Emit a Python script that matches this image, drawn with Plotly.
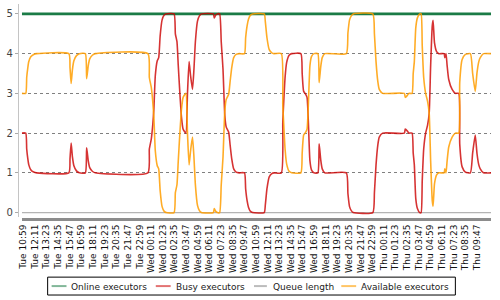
import pandas as pd
import plotly.graph_objects as go

START = pd.Timestamp("2024-01-02 10:59")  # a Tuesday

# sample times, minutes after Tue 10:59
minutes = [
    -9, 15, 21, 28, 34, 46, 64, 83,
    282, 289, 296, 304, 313, 329, 347,
    384, 392, 402, 411, 427, 445,
    771, 780, 792, 801, 808, 817, 829, 838, 847, 859, 872, 884,
    933, 941, 951, 959, 969, 979, 989, 1006, 1016, 1026, 1035, 1047, 1056, 1065, 1078, 1090, 1102,
    1176, 1182, 1191, 1201, 1215, 1225, 1236, 1247, 1256, 1271, 1280, 1290, 1302, 1317, 1336,
    1369, 1376, 1385, 1394, 1406, 1419,
    1491, 1498, 1508, 1522, 1538, 1551,
    1597, 1606, 1612, 1620, 1630, 1645, 1661,
    1718, 1726, 1735, 1747, 1756, 1764, 1774, 1784, 1799, 1823, 1831, 1841, 1850, 1866,
    1999, 2009, 2019, 2030, 2042,
    2163, 2173, 2183, 2194, 2203, 2224,
    2358, 2364, 2377, 2386, 2406, 2413, 2420, 2429, 2439, 2453, 2462, 2469, 2478, 2490, 2502, 2512,
    2521, 2531, 2536, 2545, 2558, 2572,
    2604, 2609, 2616, 2623, 2633, 2654, 2674, 2695, 2701, 2716, 2736, 2767, 2781, 2797, 2808, 2819,
    2828, 2848, 2895,
]

busy = [
    2.0, 2.0, 1.6, 1.35, 1.2, 1.08, 1.02, 1.0,
    1.0, 1.35, 1.75, 1.4, 1.18, 1.05, 1.0,
    1.0, 1.63, 1.3, 1.13, 1.04, 1.0,
    1.0, 1.6, 1.85, 2.2, 2.6, 3.45, 3.82, 3.9, 4.45, 4.85, 4.97, 5.0,
    5.0, 4.5, 4.3, 3.7, 3.0, 2.4, 2.1, 2.0, 3.0, 3.8, 3.45, 3.1, 3.6, 4.3, 4.82, 4.95, 5.0,
    5.0, 4.9, 4.97, 5.0, 5.0, 4.3, 3.6, 2.45, 2.15, 2.02, 1.7, 1.35, 1.1, 1.02, 1.0,
    1.0, 0.6, 0.3, 0.13, 0.03, 0.0,
    0.0, 0.2, 0.6, 0.9, 0.98, 1.0,
    1.0, 2.3, 2.8, 3.4, 3.78, 3.96, 4.0,
    4.0, 3.5, 3.05, 2.98, 2.9, 2.3, 1.3, 1.07, 1.0, 1.0, 1.73, 1.32, 1.1, 1.0,
    1.0, 0.48, 0.15, 0.05, 0.0,
    0.0, 0.5, 1.2, 1.7, 1.9, 2.0,
    2.0, 2.1, 2.05, 2.0, 2.0, 1.5, 1.2, 0.35, 0.1, 0.0, 0.0, 0.8, 1.6, 2.0, 2.2, 2.5,
    3.7, 4.7, 4.84, 4.27, 4.05, 4.0,
    4.0, 3.9, 4.0, 3.7, 3.35, 3.1, 3.0, 3.0, 1.73, 1.15, 1.02, 1.0, 1.5, 1.95, 1.48, 1.2,
    1.1, 1.0, 1.0,
]

available = [
    3.0, 3.0, 3.4, 3.65, 3.8, 3.92, 3.98, 4.0,
    4.0, 3.65, 3.25, 3.6, 3.82, 3.95, 4.0,
    4.0, 3.37, 3.7, 3.87, 3.96, 4.0,
    4.0, 3.4, 3.15, 2.8, 2.4, 1.55, 1.18, 1.1, 0.55, 0.15, 0.03, 0.0,
    0.0, 0.5, 0.7, 1.3, 2.0, 2.6, 2.9, 3.0, 2.0, 1.2, 1.55, 1.9, 1.4, 0.7, 0.18, 0.05, 0.0,
    0.0, 0.1, 0.03, 0.0, 0.0, 0.7, 1.4, 2.55, 2.85, 2.98, 3.3, 3.65, 3.9, 3.98, 4.0,
    4.0, 4.4, 4.7, 4.87, 4.97, 5.0,
    5.0, 4.8, 4.4, 4.1, 4.02, 4.0,
    4.0, 2.7, 2.2, 1.6, 1.22, 1.04, 1.0,
    1.0, 1.5, 1.95, 2.02, 2.1, 2.7, 3.7, 3.93, 4.0, 4.0, 3.27, 3.68, 3.9, 4.0,
    4.0, 4.52, 4.85, 4.95, 5.0,
    5.0, 4.5, 3.8, 3.3, 3.1, 3.0,
    3.0, 2.9, 2.95, 3.0, 3.0, 3.5, 3.8, 4.65, 4.9, 5.0, 5.0, 4.2, 3.4, 3.0, 2.8, 2.5,
    1.3, 0.3, 0.16, 0.73, 0.95, 1.0,
    1.0, 1.1, 1.0, 1.3, 1.65, 1.9, 2.0, 2.0, 3.27, 3.85, 3.98, 4.0, 3.5, 3.05, 3.52, 3.8,
    3.9, 4.0, 4.0,
]

# constant series (start / end samples)
flat_minutes = [-9, 2895]
online = [5, 5]
queue = [0, 0]

series_names = ["Online executors", "Busy executors", "Queue length", "Available executors"]

# x tick labels (every 72 minutes)
tick_labels = [
    "Tue 10:59", "Tue 12:11", "Tue 13:23", "Tue 14:35", "Tue 15:47", "Tue 16:59", "Tue 18:11",
    "Tue 19:23", "Tue 20:35", "Tue 21:47", "Tue 22:59",
    "Wed 00:11", "Wed 01:23", "Wed 02:35", "Wed 03:47", "Wed 04:59", "Wed 06:11", "Wed 07:23",
    "Wed 08:35", "Wed 09:47", "Wed 10:59", "Wed 12:11", "Wed 13:23", "Wed 14:35", "Wed 15:47",
    "Wed 16:59", "Wed 18:11", "Wed 19:23", "Wed 20:35", "Wed 21:47", "Wed 22:59",
    "Thu 00:11", "Thu 01:23", "Thu 02:35", "Thu 03:47", "Thu 04:59", "Thu 06:11", "Thu 07:23",
    "Thu 08:35", "Thu 09:47",
]
tick_minutes = [72 * i for i in range(len(tick_labels))]

assert len(minutes) == len(busy) == len(available)

t = START + pd.to_timedelta(minutes, unit="min")
tf = START + pd.to_timedelta(flat_minutes, unit="min")
tt = START + pd.to_timedelta(tick_minutes, unit="min")

GREEN = "#1b7b46"
RED = "rgba(204,0,0,0.8)"
GRAY = "#b4b4b4"
ORANGE = "rgba(255,158,0,0.85)"

fig = go.Figure()
fig.add_trace(go.Scatter(x=tf, y=online, mode="lines", name=series_names[0],
                         line=dict(color=GREEN, width=2.6), showlegend=False))
fig.add_trace(go.Scatter(x=tf, y=queue, mode="lines", name=series_names[2],
                         line=dict(color=GRAY, width=1.2), showlegend=False))
fig.add_trace(go.Scatter(x=t, y=busy, mode="lines", name=series_names[1],
                         line=dict(color=RED, width=1.6, shape="spline", smoothing=0.5),
                         showlegend=False))
fig.add_trace(go.Scatter(x=t, y=available, mode="lines", name=series_names[3],
                         line=dict(color=ORANGE, width=1.6, shape="spline", smoothing=0.5),
                         showlegend=False))

W, H = 500, 300
fmt = "%Y-%m-%d %H:%M:%S"
fig.update_layout(
    width=W, height=H, margin=dict(l=0, r=0, t=0, b=0),
    paper_bgcolor="white", plot_bgcolor="white",
    font=dict(family="DejaVu Sans", size=9, color="#222"),
    showlegend=False,
)
fig.update_xaxes(
    type="date", domain=[18 / W, 491 / W],
    range=[tf[0].strftime(fmt), tf[-1].strftime(fmt)],
    anchor="free", position=(H - 220.5) / H,
    showline=True, linecolor="#8c8c8c", linewidth=3,
    tickmode="array", tickvals=[x.strftime(fmt) for x in tt], ticktext=tick_labels,
    tickangle=-90, ticks="", showgrid=False, zeroline=False,
    tickfont=dict(family="DejaVu Sans", size=9, color="#111"),
)
fig.update_yaxes(
    domain=[(H - 218) / H, (H - 4) / H], range=[-0.1, 5.25],
    anchor="free", position=14 / W,
    showline=True, linecolor="#c4c4c4", linewidth=1,
    ticks="outside", ticklen=3, tickcolor="#aaa", tickvals=[0, 1, 2, 3, 4, 5],
    showgrid=True, gridcolor="#808080", griddash="dot", gridwidth=1, zeroline=False,
    tickfont=dict(family="DejaVu Sans", size=10, color="#444"),
)

# legend box drawn in pixel-based paper coordinates
def px(x):
    return x / W

def py(y):
    return 1 - y / H

fig.add_shape(type="rect", xref="paper", yref="paper",
              x0=px(44), x1=px(455), y0=py(297), y1=py(279),
              line=dict(color="black", width=1), fillcolor="white", layer="above")
legend_colors = ["rgba(27,123,70,0.55)", "rgba(204,0,0,0.55)", "rgba(160,160,160,0.7)", "rgba(255,158,0,0.6)"]
legend_line_x = [(48, 63), (153, 168), (252, 265), (340, 355)]
legend_text_x = [66, 171, 269, 358]
for name, col, (a, b), tx in zip(series_names, legend_colors, legend_line_x, legend_text_x):
    fig.add_shape(type="line", xref="paper", yref="paper",
                  x0=px(a), x1=px(b), y0=py(288), y1=py(288),
                  line=dict(color=col, width=2), layer="above")
    fig.add_annotation(x=px(tx), y=py(288.5), xref="paper", yref="paper",
                       text=name, showarrow=False, xanchor="left", yanchor="middle",
                       font=dict(family="DejaVu Sans", size=9, color="#222"))

fig.write_html("out.html")
